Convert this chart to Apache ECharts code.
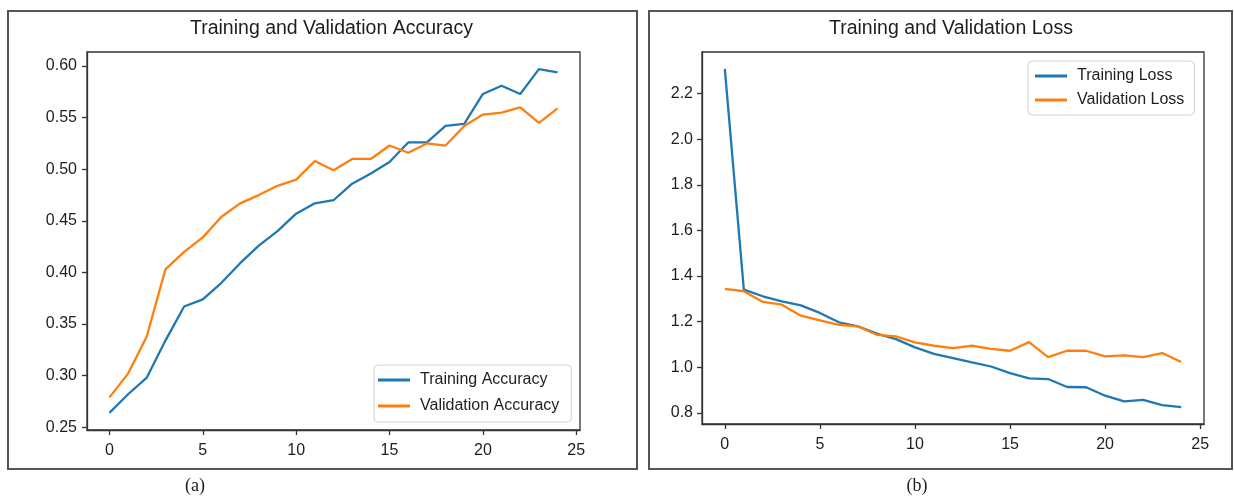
<!DOCTYPE html>
<html>
<head>
<meta charset="utf-8">
<script src="https://cdn.jsdelivr.net/npm/echarts@6/dist/echarts.min.js"></script>
<style>
html,body{margin:0;padding:0;background:#fff;}
#chart{width:1234px;height:497px;}
</style>
</head>
<body>
<div id="chart"></div>
<script>
const epochs = [0,1,2,3,4,5,6,7,8,9,10,11,12,13,14,15,16,17,18,19,20,21,22,23,24];
const trainAcc = [0.264,0.282,0.298,0.334,0.367,0.374,0.390,0.409,0.426,0.440,0.457,0.467,0.470,0.486,0.496,0.507,0.526,0.526,0.542,0.544,0.573,0.581,0.573,0.597,0.594];
const valAcc = [0.279,0.302,0.338,0.403,0.420,0.434,0.454,0.467,0.475,0.484,0.490,0.508,0.499,0.510,0.510,0.523,0.516,0.525,0.523,0.542,0.553,0.555,0.560,0.545,0.559];
const trainLoss = [2.308,1.340,1.311,1.289,1.271,1.238,1.197,1.179,1.147,1.123,1.087,1.058,1.040,1.021,1.003,0.974,0.951,0.948,0.913,0.912,0.875,0.850,0.857,0.834,0.825];
const valLoss = [1.343,1.333,1.286,1.274,1.226,1.205,1.186,1.179,1.142,1.135,1.109,1.094,1.084,1.094,1.080,1.072,1.110,1.044,1.072,1.072,1.047,1.052,1.044,1.062,1.023];
const xTicks = [0,5,10,15,20,25];
const accTicks = [0.25,0.30,0.35,0.40,0.45,0.50,0.55,0.60];
const lossTicks = [0.8,1.0,1.2,1.4,1.6,1.8,2.0,2.2];
const titles = ['Training and Validation Accuracy','Training and Validation Loss'];
const accNames = ['Training Accuracy','Validation Accuracy'];
const lossNames = ['Training Loss','Validation Loss'];
const captions = ['(a)','(b)'];

const BLUE = '#1f77b4', ORANGE = '#ff7f0e';
const FONT = 'Liberation Sans';
const TXT = '#1e1e1e';

function range(arrs){
  const all = [].concat(...arrs);
  const lo = Math.min(...all), hi = Math.max(...all);
  const p = (hi-lo)*0.05;
  return [lo-p, hi+p];
}
const xr = range([epochs]);
const ar = range([trainAcc,valAcc]);
const lr = range([trainLoss,valLoss]);
const pts = arr => epochs.map((e,i)=>[e,arr[i]]);

function xAxis(idx){
  return {
    type:'value', gridIndex:idx, min:xr[0], max:xr[1],
    splitLine:{show:false},
    axisLine:{show:true,onZero:false,lineStyle:{color:'#333',width:1.3}},
    axisTick:{show:true,length:5,customValues:xTicks,lineStyle:{color:'#333',width:1.3}},
    axisLabel:{customValues:xTicks,margin:13,fontSize:16,color:TXT,fontFamily:FONT}
  };
}
function yAxis(idx,r,ticks,dec,margin){
  return {
    type:'value', gridIndex:idx, min:r[0], max:r[1],
    splitLine:{show:false},
    axisLine:{show:true,onZero:false,lineStyle:{color:'#333',width:1.3}},
    axisTick:{show:true,length:5,customValues:ticks,lineStyle:{color:'#333',width:1.3}},
    axisLabel:{customValues:ticks,margin:margin,fontSize:16,color:TXT,fontFamily:FONT,
      formatter:v=>Number(v).toFixed(dec)}
  };
}
function line(name,data,color,idx){
  return {type:'line',name:name,data:data,xAxisIndex:idx,yAxisIndex:idx,
    symbol:'none',showSymbol:false,smooth:false,animation:false,
    lineStyle:{color:color,width:2.3},itemStyle:{color:color}};
}
const legendBase = {
  orient:'vertical', icon:'rect', itemWidth:32, itemHeight:3,
  backgroundColor:'#fff', borderColor:'#d0d0d0', borderWidth:1, borderRadius:4,
  textStyle:{fontSize:16,color:TXT,fontFamily:FONT,lineHeight:18,padding:[0,0,0,5]}
};

const chart = echarts.init(document.getElementById('chart'),null,{renderer:'canvas'});
chart.setOption({
  animation:false,
  backgroundColor:'#fff',
  textStyle:{fontFamily:FONT},
  title:[
    {text:titles[0],left:190,top:19,padding:0,textStyle:{fontSize:19.5,fontWeight:'normal',color:TXT,fontFamily:FONT}},
    {text:titles[1],left:829,top:19,padding:0,textStyle:{fontSize:19.5,fontWeight:'normal',color:TXT,fontFamily:FONT}}
  ],
  grid:[
    {left:87,top:52,width:493,height:378,show:true,borderColor:'#333',borderWidth:1.3,backgroundColor:'#fff'},
    {left:702,top:52,width:502,height:372,show:true,borderColor:'#333',borderWidth:1.3,backgroundColor:'#fff'}
  ],
  xAxis:[xAxis(0),xAxis(1)],
  yAxis:[yAxis(0,ar,accTicks,2,10),yAxis(1,lr,lossTicks,1,9)],
  legend:[
    Object.assign({},legendBase,{data:accNames,left:374,top:365,itemGap:8,padding:[6,12,7,4]}),
    Object.assign({},legendBase,{data:lossNames,left:1028,top:61,itemGap:6,padding:[6,10,6,7]})
  ],
  series:[
    line(accNames[0],pts(trainAcc),BLUE,0),
    line(accNames[1],pts(valAcc),ORANGE,0),
    line(lossNames[0],pts(trainLoss),BLUE,1),
    line(lossNames[1],pts(valLoss),ORANGE,1)
  ],
  graphic:[
    {type:'rect',shape:{x:8,y:11,width:629,height:458},style:{fill:'none',stroke:'#555',lineWidth:2},z:-1},
    {type:'rect',shape:{x:649,y:11,width:583,height:458},style:{fill:'none',stroke:'#555',lineWidth:2},z:-1},
    {type:'text',x:195,y:486,style:{text:captions[0],font:'18px "Liberation Serif"',fill:'#222',textAlign:'center',textVerticalAlign:'middle'}},
    {type:'text',x:917,y:486,style:{text:captions[1],font:'18px "Liberation Serif"',fill:'#222',textAlign:'center',textVerticalAlign:'middle'}}
  ]
});
</script>
</body>
</html>
